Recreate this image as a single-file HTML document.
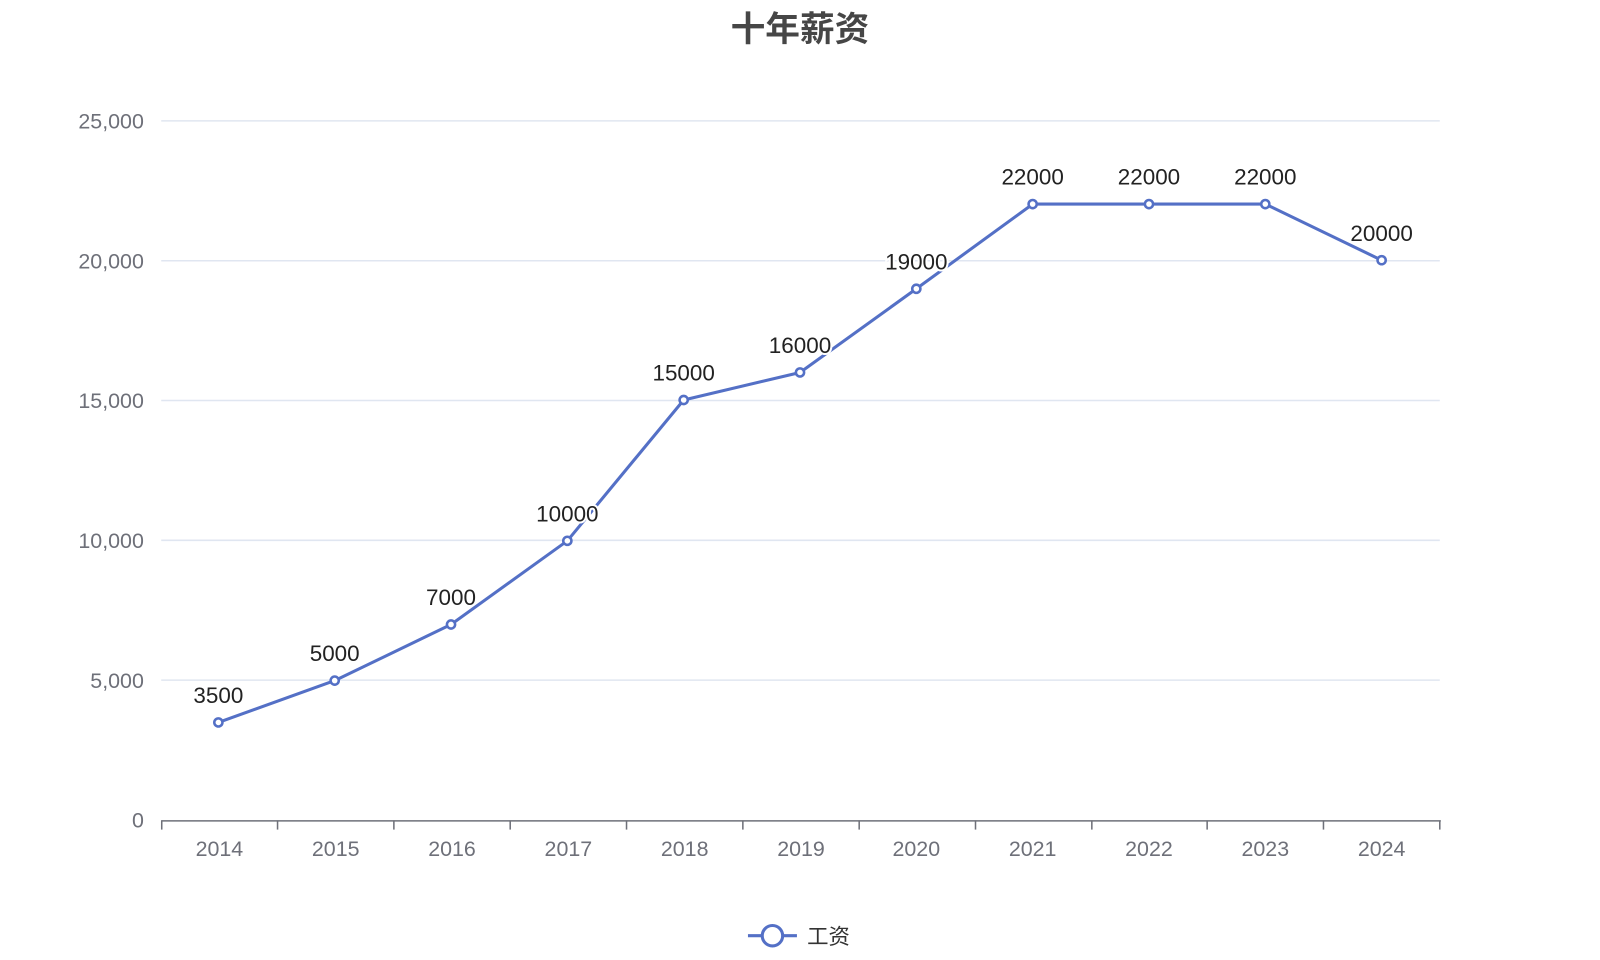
<!DOCTYPE html>
<html><head><meta charset="utf-8"><style>
html,body{margin:0;padding:0;background:#fff;width:1600px;height:960px;overflow:hidden}
svg text{font-family:"Liberation Sans","Noto Sans CJK SC",sans-serif}
</style></head><body>
<svg width="1600" height="960" viewBox="0 0 1568 940.8" preserveAspectRatio="none">
<text x="784" y="40" text-anchor="middle" font-size="34" font-weight="bold" fill="#464646">十年薪资</text>
<g stroke="#e0e6f1" stroke-width="1.5">
<line x1="158" x2="1411" y1="118.5" y2="118.5"/>
<line x1="158" x2="1411" y1="255.5" y2="255.5"/>
<line x1="158" x2="1411" y1="392.5" y2="392.5"/>
<line x1="158" x2="1411" y1="529.5" y2="529.5"/>
<line x1="158" x2="1411" y1="666.5" y2="666.5"/>
</g>
<g font-size="21" fill="#6e7079" text-anchor="end">
<text x="141" y="126">25,000</text>
<text x="141" y="263">20,000</text>
<text x="141" y="400">15,000</text>
<text x="141" y="537">10,000</text>
<text x="141" y="674">5,000</text>
<text x="141" y="811">0</text>
</g>
<g stroke="#6e7079" stroke-width="1.5">
<line x1="158" x2="1412" y1="804.5" y2="804.5"/>
<line x1="158.5" x2="158.5" y1="804" y2="813"/>
<line x1="272" x2="272" y1="804" y2="813"/>
<line x1="386" x2="386" y1="804" y2="813"/>
<line x1="500" x2="500" y1="804" y2="813"/>
<line x1="614" x2="614" y1="804" y2="813"/>
<line x1="728" x2="728" y1="804" y2="813"/>
<line x1="842" x2="842" y1="804" y2="813"/>
<line x1="956" x2="956" y1="804" y2="813"/>
<line x1="1070" x2="1070" y1="804" y2="813"/>
<line x1="1183" x2="1183" y1="804" y2="813"/>
<line x1="1297" x2="1297" y1="804" y2="813"/>
<line x1="1411" x2="1411" y1="804" y2="813"/>
</g>
<g font-size="21" fill="#6e7079" text-anchor="middle">
<text x="215" y="839">2014</text><text x="329" y="839">2015</text><text x="443" y="839">2016</text><text x="557" y="839">2017</text><text x="671" y="839">2018</text><text x="785" y="839">2019</text><text x="898" y="839">2020</text><text x="1012" y="839">2021</text><text x="1126" y="839">2022</text><text x="1240" y="839">2023</text><text x="1354" y="839">2024</text>
</g>
<polyline fill="none" stroke="#5470c6" stroke-width="3" stroke-linejoin="round" points="214,708 328,667 442,612 556,530 670,392 784,365 898,283 1012,200 1126,200 1240,200 1354,255"/>
<g fill="#fff" stroke="#5470c6" stroke-width="2.5">
<circle cx="214" cy="708" r="4"/><circle cx="328" cy="667" r="4"/><circle cx="442" cy="612" r="4"/><circle cx="556" cy="530" r="4"/><circle cx="670" cy="392" r="4"/><circle cx="784" cy="365" r="4"/><circle cx="898" cy="283" r="4"/><circle cx="1012" cy="200" r="4"/><circle cx="1126" cy="200" r="4"/><circle cx="1240" cy="200" r="4"/><circle cx="1354" cy="255" r="4"/>
</g>
<g font-size="22" fill="#222" text-anchor="middle" stroke="#fff" stroke-width="4" paint-order="stroke">
<text x="214" y="689">3500</text><text x="328" y="648">5000</text><text x="442" y="593">7000</text><text x="556" y="511">10000</text><text x="670" y="373">15000</text><text x="784" y="346">16000</text><text x="898" y="264">19000</text><text x="1012" y="181">22000</text><text x="1126" y="181">22000</text><text x="1240" y="181">22000</text><text x="1354" y="236">20000</text>
</g>
<line x1="733" x2="781" y1="917" y2="917" stroke="#5470c6" stroke-width="3"/>
<circle cx="757" cy="917" r="10" fill="#fff" stroke="#5470c6" stroke-width="3"/>
<text x="791" y="925" font-size="21" fill="#333">工资</text>
</svg>
</body></html>
